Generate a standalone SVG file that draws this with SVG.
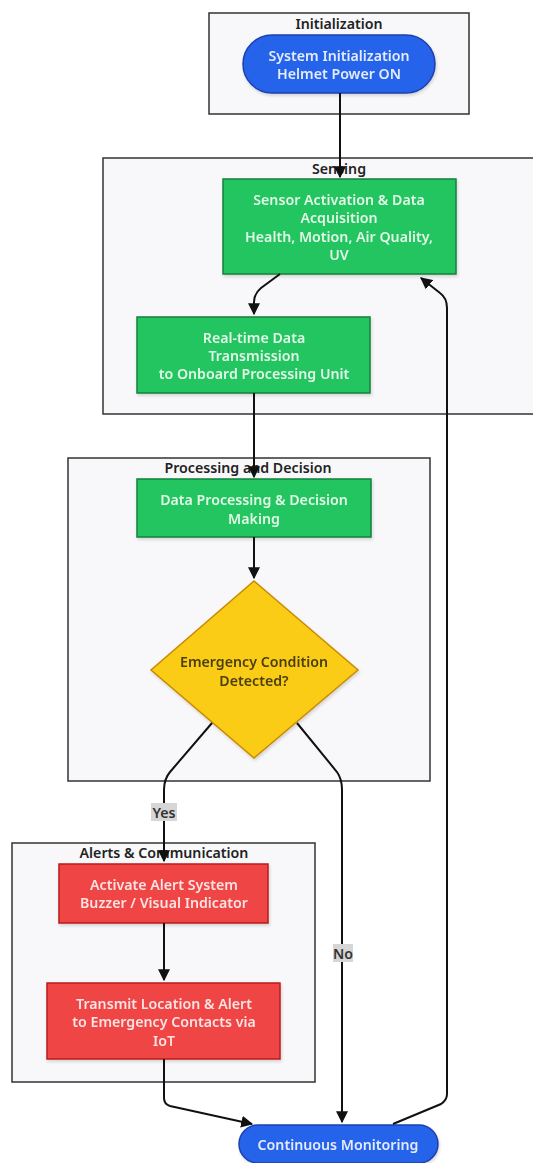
<svg xmlns="http://www.w3.org/2000/svg" width="533" height="1163" viewBox="0 0 533 1163">
<style>
text{font-family:"Noto Sans","Liberation Sans",sans-serif;font-size:14.2px;font-weight:600;text-anchor:middle;dominant-baseline:central}
.cl{fill:#f8f8fa;stroke:#333;stroke-width:1.5}
.ct{fill:#222}
.blue{fill:#2563eb;stroke:#1e40af;stroke-width:1.5}
.green{fill:#22c55e;stroke:#15803d;stroke-width:1.5}
.yellow{fill:#facc15;stroke:#ca8a04;stroke-width:1.5}
.red{fill:#ef4444;stroke:#b91c1c;stroke-width:1.5}
.lt{fill:#e4ecfb}
.gt{fill:#e3f7e8}
.rt{fill:#fbe3e3}
.yt{fill:#4a3f10}
.e{fill:none;stroke:#111;stroke-width:2;marker-end:url(#arr)}
.lbl{fill:#d6d6d6}
.lbt{fill:#333}
</style>
<defs>
<marker id="arr" markerUnits="userSpaceOnUse" markerWidth="12" markerHeight="12" refX="9" refY="5" orient="auto" viewBox="0 0 10 10">
<path d="M0,0 L10,5 L0,10 z" fill="#111"/>
</marker>
<filter id="sh" x="-10%" y="-10%" width="120%" height="130%">
<feDropShadow dx="1" dy="2" stdDeviation="1.5" flood-color="#000" flood-opacity="0.15"/>
</filter>
</defs>

<g id="cluster-init">
<rect class="cl" x="209" y="13" width="260" height="101"/>
<text class="ct" x="339" y="23">Initialization</text>
</g>
<g id="cluster-sensing">
<rect class="cl" x="103" y="158" width="440" height="256"/>
<text class="ct" x="339" y="168">Sensing</text>
</g>
<g id="cluster-processing">
<rect class="cl" x="68" y="458" width="362" height="323"/>
<text class="ct" x="248" y="467">Processing and Decision</text>
</g>
<g id="cluster-alerts">
<rect class="cl" x="12" y="843" width="303" height="239"/>
<text class="ct" x="164" y="852">Alerts &amp; Communication</text>
</g>

<g id="node-init" filter="url(#sh)">
<rect class="blue" x="243" y="35" width="192" height="58" rx="29"/>
<text class="lt" x="339" y="55">System Initialization</text>
<text class="lt" x="339" y="73">Helmet Power ON</text>
</g>
<g id="node-sensor" filter="url(#sh)">
<rect class="green" x="223" y="179" width="233" height="95"/>
<text class="gt" x="339" y="199">Sensor Activation &amp; Data</text>
<text class="gt" x="339" y="217">Acquisition</text>
<text class="gt" x="339" y="236">Health, Motion, Air Quality,</text>
<text class="gt" x="339" y="254">UV</text>
</g>
<g id="node-realtime" filter="url(#sh)">
<rect class="green" x="137" y="317" width="233" height="76"/>
<text class="gt" x="254" y="337">Real-time Data</text>
<text class="gt" x="254" y="355">Transmission</text>
<text class="gt" x="254" y="373">to Onboard Processing Unit</text>
</g>
<g id="node-processing" filter="url(#sh)">
<rect class="green" x="137" y="479" width="234" height="58"/>
<text class="gt" x="254" y="499">Data Processing &amp; Decision</text>
<text class="gt" x="254" y="518">Making</text>
</g>
<g id="node-decision" filter="url(#sh)">
<polygon class="yellow" points="254,581 358,670 254,758 151,670"/>
<text class="yt" x="254" y="661">Emergency Condition</text>
<text class="yt" x="254" y="680">Detected?</text>
</g>
<g id="node-alert" filter="url(#sh)">
<rect class="red" x="59" y="864" width="209" height="59"/>
<text class="rt" x="164" y="884">Activate Alert System</text>
<text class="rt" x="164" y="902">Buzzer / Visual Indicator</text>
</g>
<g id="node-transmit" filter="url(#sh)">
<rect class="red" x="47" y="983" width="233" height="76"/>
<text class="rt" x="164" y="1003">Transmit Location &amp; Alert</text>
<text class="rt" x="164" y="1021">to Emergency Contacts via</text>
<text class="rt" x="164" y="1040">IoT</text>
</g>
<g id="node-monitor" filter="url(#sh)">
<rect class="blue" x="239" y="1125" width="199" height="38" rx="19"/>
<text class="lt" x="338" y="1144">Continuous Monitoring</text>
</g>

<g id="connectors">
<path class="e" d="M340,93 L340,177"/>
<path class="e" d="M280,274 L261,288 Q254,294 254,302 L254,314"/>
<path class="e" d="M254,393 L254,477"/>
<path class="e" d="M254,537 L254,578"/>
<path class="e" d="M212,723 L170,772 Q164,779 164,790 L164,861"/>
<path class="e" d="M164,923 L164,980"/>
<path class="e" d="M297,723 L337,772 Q342,779 342,790 L342,1122"/>
<path class="e" d="M164,1059 L164,1098 Q164,1104 170,1106 L252,1124"/>
<path class="e" d="M393,1124 L441,1104 Q447,1100 447,1094 L447,308 Q447,298 440,293 L421,278"/>
<rect class="lbl" x="151" y="803" width="26" height="18"/>
<text class="lbt" x="164" y="812">Yes</text>
<rect class="lbl" x="333" y="944" width="20" height="18"/>
<text class="lbt" x="343" y="953">No</text>
</g>
</svg>
